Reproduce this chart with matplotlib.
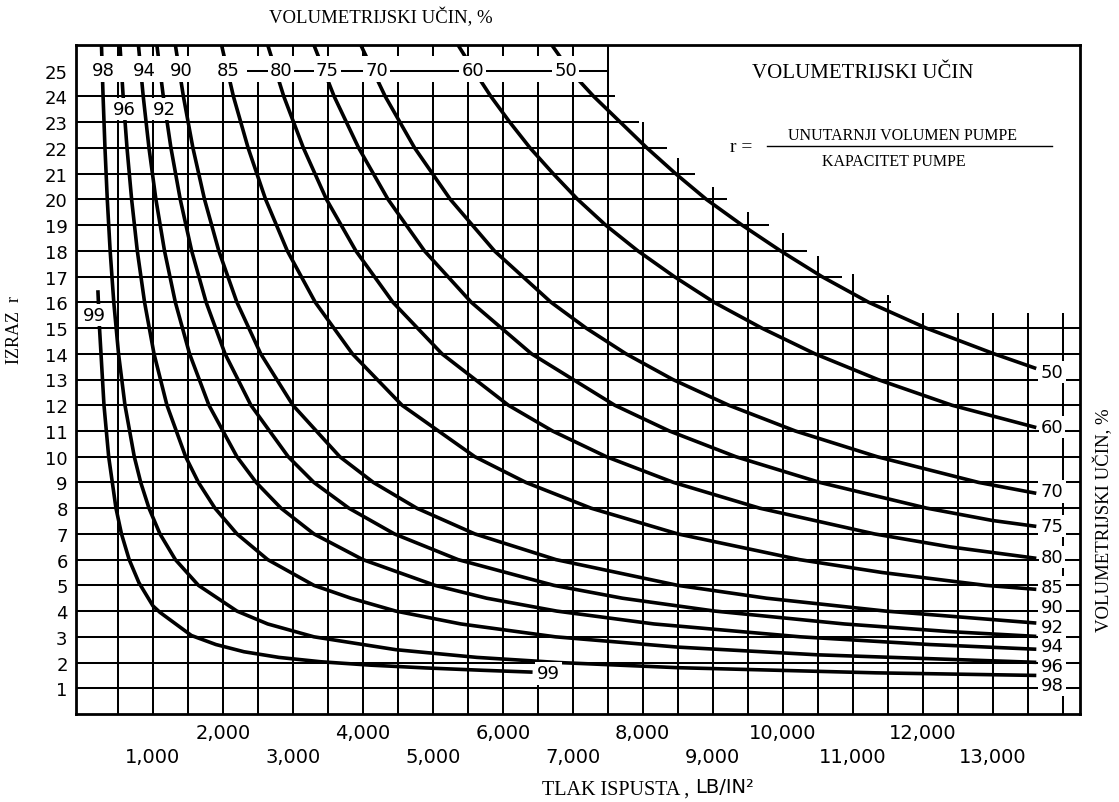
import numpy as np
import matplotlib.pyplot as plt
from matplotlib.patches import Rectangle
from matplotlib.transforms import blended_transform_factory

# volumetric efficiency curves: discharge pressure (lb/in2) and ratio r
p_99 = [214, 236, 300, 367, 471, 550, 660, 800, 1000, 1100, 1300, 1550, 1900, 2300, 2800, 3400, 4100, 4900, 5700, 6400]
r_99 = [16.4, 15.0, 12.0, 10.0, 8.0, 7.0, 6.0, 5.1, 4.2, 3.95, 3.55, 3.05, 2.7, 2.42, 2.2, 2.03, 1.9, 1.79, 1.7, 1.63]

p_98 = [264, 287, 314, 347, 388, 440, 508, 600, 733, 825, 943, 1100, 1320, 1650, 2200, 2640, 3300, 4470, 5630, 6800, 8500, 11330, 13600]
r_98 = [26, 24, 22, 20, 18, 16, 14, 12, 10, 9, 8, 7, 6, 5, 4, 3.5, 3, 2.5, 2.2, 2.0, 1.8, 1.6, 1.5]

p_96 = [528, 574, 629, 695, 776, 880, 1015, 1200, 1467, 1650, 1886, 2200, 2640, 3300, 3830, 4470, 5400, 6750, 8500, 10500, 13600]
r_96 = [26, 24, 22, 20, 18, 16, 14, 12, 10, 9, 8, 7, 6, 5, 4.5, 4, 3.5, 3, 2.6, 2.3, 2.01]

p_94 = [792, 861, 943, 1042, 1165, 1320, 1523, 1800, 2200, 2475, 2830, 3300, 4000, 5030, 5770, 6770, 8160, 10250, 12100, 13600]
r_94 = [26, 24, 22, 20, 18, 16, 14, 12, 10, 9, 8, 7, 6, 5, 4.5, 4, 3.5, 3, 2.7, 2.52]

p_92 = [1056, 1148, 1257, 1390, 1553, 1760, 2030, 2400, 2933, 3300, 3800, 4450, 5360, 6730, 7710, 9030, 10880, 12400, 13600]
r_92 = [26, 24, 22, 20, 18, 16, 14, 12, 10, 9, 8, 7, 6, 5, 4.5, 4, 3.5, 3.2, 3.02]

p_90 = [1320, 1435, 1571, 1737, 1941, 2200, 2540, 3000, 3670, 4150, 4770, 5600, 6760, 8500, 9770, 11470, 13600]
r_90 = [26, 24, 22, 20, 18, 16, 14, 12, 10, 9, 8, 7, 6, 5, 4.5, 4, 3.54]

p_85 = [1980, 2150, 2360, 2610, 2920, 3320, 3850, 4560, 5600, 6330, 7260, 8500, 10240, 11420, 12900, 13600]
r_85 = [26, 24, 22, 20, 18, 16, 14, 12, 10, 9, 8, 7, 6, 5.5, 5, 4.85]

p_80 = [2640, 2870, 3150, 3480, 3900, 4430, 5130, 6080, 6710, 7480, 8440, 9670, 11310, 12380, 13600]
r_80 = [26, 24, 22, 20, 18, 16, 14, 12, 11, 10, 9, 8, 7, 6.5, 6.06]

p_75 = [3300, 3590, 3940, 4360, 4880, 5550, 6410, 7600, 8380, 9330, 10530, 12060, 13000, 13600]
r_75 = [26, 24, 22, 20, 18, 16, 14, 12, 11, 10, 9, 8, 7.52, 7.3]

p_70 = [3970, 4320, 4740, 5250, 5880, 6690, 7190, 7760, 8430, 9230, 10180, 11350, 12800, 13600]
r_70 = [26, 24, 22, 20, 18, 16, 15, 14, 13, 12, 11, 10, 9, 8.59]

p_60 = [5360, 5590, 5830, 6100, 6390, 6720, 7070, 7470, 7930, 8450, 9020, 9700, 10460, 11360, 12420, 13600]
r_60 = [26, 25, 24, 23, 22, 21, 20, 19, 18, 17, 16, 15, 14, 13, 12, 11.15]

p_50 = [6700, 6960, 7300, 7680, 8060, 8470, 8910, 9420, 9970, 10560, 11230, 12050, 13020, 13600]
r_50 = [26, 25, 24, 23, 22, 21, 20, 19, 18, 17, 16, 15, 14, 13.45]

curves = [(p_99, r_99), (p_98, r_98), (p_96, r_96), (p_94, r_94), (p_92, r_92), (p_90, r_90),
          (p_85, r_85), (p_80, r_80), (p_75, r_75), (p_70, r_70), (p_60, r_60), (p_50, r_50)]

# curve labels along the top row (r = 25) and the second row
top_labels = ['98', '94', '90', '85', '80', '75', '70', '60', '50']
top_label_x = [290, 880, 1400, 2080, 2830, 3490, 4200, 5570, 6900]
row2_labels = ['96', '92']
row2_label_x = [590, 1170]
# labels at the right end of the curves
right_labels = ['50', '60', '70', '75', '80', '85', '90', '92', '94', '96', '98']
right_label_r = [13.3, 11.15, 8.65, 7.3, 6.1, 4.94, 4.16, 3.38, 2.64, 1.87, 1.13]

# grid: where the lines stop near the legend box
stair_rows = [16, 17, 18, 19, 20, 21, 22, 23, 24]
stair_row_end = [11550, 10850, 10350, 9800, 9200, 8750, 8350, 7950, 7600]
stair_cols = [8000, 8500, 9000, 9500, 10000, 10500, 11000, 11500, 12000, 12500, 13000, 13500, 14000]
stair_col_top = [23.0, 21.6, 20.5, 19.5, 18.7, 17.8, 17.1, 16.3, 15.6, 15.6, 15.6, 15.6, 15.6]

x_ticks = [1000, 2000, 3000, 4000, 5000, 6000, 7000, 8000, 9000, 10000, 11000, 12000, 13000]

serif = 'Liberation Serif'
sans = 'DejaVu Sans'

fig = plt.figure(figsize=(11.19, 8.03), dpi=100)
ax = fig.add_axes([76 / 1119, 1 - 715 / 803, (1080 - 76) / 1119, (715 - 46) / 803])
ax.set_xlim(-100, 14250)
ax.set_ylim(0, 26)

grid_kw = dict(color='black', lw=1.45, solid_capstyle='butt', zorder=1)
col_top = dict(zip(stair_cols, stair_col_top))
for gx in range(500, 14001, 500):
    ax.plot([gx, gx], [0, col_top.get(gx, 26)], **grid_kw)
row_end = dict(zip(stair_rows, stair_row_end))
for gr in range(1, 25):
    ax.plot([-100, row_end.get(gr, 14250)], [gr, gr], **grid_kw)

for p, r in curves:
    ax.plot(p, r, color='black', lw=2.6, solid_joinstyle='round', zorder=2)

# blank band for the top label row, with the r = 25 line running through part of it
ax.add_patch(Rectangle((-100, 24.56), 7560, 1.02, fc='white', ec='none', zorder=3))
ax.plot([2350, 7500], [25, 25], **dict(grid_kw, zorder=4))

box = dict(boxstyle='square,pad=0.12', fc='white', ec='none')
lab_kw = dict(ha='center', va='center', fontsize=13, family=sans, bbox=box, zorder=5)
for lab, x in zip(top_labels, top_label_x):
    ax.text(x, 25.02, lab, **lab_kw)
for lab, x in zip(row2_labels, row2_label_x):
    ax.text(x, 23.5, lab, **lab_kw)
for lab, r in zip(right_labels, right_label_r):
    ax.text(13850, r, lab, **lab_kw)
ax.text(160, 15.5, '99', **lab_kw)
ax.text(6650, 1.58, '99', **lab_kw)

for s in ax.spines.values():
    s.set_linewidth(2.0)
    s.set_zorder(6)

ax.set_yticks(range(1, 26))
ax.set_yticklabels([str(i) for i in range(1, 26)], family=sans, fontsize=13)
ax.set_xticks([])
ax.tick_params(axis='y', length=0, pad=6)

trans = blended_transform_factory(ax.transData, ax.transAxes)
for i, xt in enumerate(x_ticks):
    yy = -0.027 if i % 2 == 1 else -0.063
    ax.text(xt, yy, f'{xt:,}', transform=trans, ha='center', va='center',
            fontsize=14, family=sans)

fig.text(0.34, 0.978, 'VOLUMETRIJSKI UČIN, %', ha='center', va='center', fontsize=13.5, family=serif)
fig.text(0.616, 0.016, 'TLAK ISPUSTA ,', ha='right', va='center', fontsize=14.5, family=serif)
fig.text(0.621, 0.019, 'LB/IN²', ha='left', va='center', fontsize=14, family=sans)
fig.text(0.013, 0.589, 'IZRAZ  r', ha='center', va='center', rotation=90, fontsize=13, family=serif)
fig.text(0.986, 0.352, 'VOLUMETRIJSKI UČIN, %', ha='center', va='center', rotation=90, fontsize=13.5, family=serif)

# legend box text
fig.text(863 / 1119, 1 - 73 / 803, 'VOLUMETRIJSKI UČIN', ha='center', va='center', fontsize=15, family=serif)
fig.text(741 / 1119, 1 - 148 / 803, 'r =', ha='center', va='center', fontsize=14, family=serif)
fig.text(903 / 1119, 1 - 136 / 803, 'UNUTARNJI VOLUMEN PUMPE', ha='center', va='center', fontsize=11.5, family=serif)
fig.text(894 / 1119, 1 - 162 / 803, 'KAPACITET PUMPE', ha='center', va='center', fontsize=11.5, family=serif)
fig.add_artist(plt.Line2D([767 / 1119, 1052 / 1119], [1 - 147 / 803, 1 - 147 / 803],
                          transform=fig.transFigure, color='black', lw=1.0))

fig.savefig('out.png', dpi=100, facecolor='white')
